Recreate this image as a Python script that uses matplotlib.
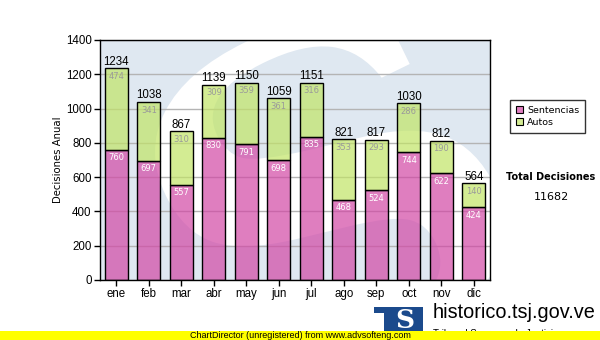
import matplotlib
matplotlib.use("Agg")
import matplotlib.pyplot as plt
import numpy as np
from matplotlib.textpath import TextPath
from matplotlib.font_manager import FontProperties
from matplotlib.patches import PathPatch, Rectangle, Patch
from matplotlib.transforms import Affine2D
from matplotlib.colors import to_rgba

months = ['ene', 'feb', 'mar', 'abr', 'may', 'jun', 'jul', 'ago', 'sep', 'oct', 'nov', 'dic']
sentencias = [760, 697, 557, 830, 791, 698, 835, 468, 524, 744, 622, 424]
autos = [474, 341, 310, 309, 359, 361, 316, 353, 293, 286, 190, 140]
series_names = ['Sentencias', 'Autos']

pink = '#d247a5'
green = '#c1e466'
bg_blue = '#dfe8f1'

W, H = 600, 340
fig = plt.figure(figsize=(6, 3.4), dpi=100)
fig.patch.set_facecolor('white')

def fx(px):
    return px / W

def fy(py):
    return 1 - py / H

AX_W, AX_H = 390, 240
ax = fig.add_axes([fx(100), fy(280), AX_W / W, AX_H / H])
ax.set_facecolor(bg_blue)

# watermark "S" of the logo, white on light blue (built in axes pixels, then to axes fraction)
tp = TextPath((0, 0), "S", size=1, prop=FontProperties(family='DejaVu Serif', weight='bold'))
ext = tp.get_extents()
sw, sh = 300, 340
cx, cy = 230, 90
tr = (Affine2D().translate(-ext.x0 - ext.width / 2, -ext.y0 - ext.height / 2)
      .scale(sw / ext.width, sh / ext.height)
      .rotate_deg(26)
      .translate(cx, cy)
      .scale(1 / AX_W, 1 / AX_H))
wm = PathPatch(tr.transform_path(tp), facecolor='white', edgecolor='none', transform=ax.transAxes, zorder=0.5)
ax.add_patch(wm)
wm.set_clip_path(ax.patch)

x = np.arange(len(months))
s = np.array(sentencias)
a = np.array(autos)
tot = s + a

ax.bar(x, s, width=0.7, color=to_rgba(pink, 0.7), edgecolor='black', linewidth=1, zorder=3)
ax.bar(x, a, bottom=s, width=0.7, color=to_rgba(green, 0.7), edgecolor='black', linewidth=1, zorder=3)

for i in range(len(x)):
    ax.annotate(str(tot[i]), (x[i], tot[i]), xytext=(0, 0.5), textcoords='offset points',
                ha='center', va='bottom', fontsize=8.3, family='Liberation Sans', color='black', zorder=5)
    ax.annotate(str(a[i]), (x[i], tot[i]), xytext=(0, -2.5), textcoords='offset points',
                ha='center', va='top', fontsize=6, family='DejaVu Sans', color='#9a9a9a', zorder=5)
    ax.annotate(str(s[i]), (x[i], s[i]), xytext=(0, -2.5), textcoords='offset points',
                ha='center', va='top', fontsize=6, family='DejaVu Sans', color='white', zorder=5)

ax.set_xlim(-0.5, len(months) - 0.5)
ax.set_ylim(0, 1400)
ax.set_yticks(range(0, 1401, 200))
ax.set_xticks(x)
ax.set_xticklabels(months)
ax.yaxis.grid(True, color='#b4b4b4', linewidth=1, zorder=1)
ax.set_axisbelow(True)
for sp in ax.spines.values():
    sp.set_color('black')
    sp.set_linewidth(1)
    sp.set_zorder(6)
ax.tick_params(axis='both', direction='out', length=4, width=1, colors='black', pad=2)
for lab in ax.get_xticklabels() + ax.get_yticklabels():
    lab.set_family('Liberation Sans')
    lab.set_fontsize(8.3)
ax.set_ylabel('Decisiones Anual', fontsize=7.3, family='DejaVu Sans', labelpad=2)

# legend
handles = [Patch(facecolor='#e07ec0', edgecolor='black', linewidth=0.8),
           Patch(facecolor='#d4ec94', edgecolor='black', linewidth=0.8)]
leg = fig.legend(handles, series_names, loc='upper left', bbox_to_anchor=(fx(510), fy(100)),
                 borderaxespad=0, frameon=True, fancybox=False, handlelength=0.75, handleheight=0.75,
                 handletextpad=0.4, labelspacing=0.25, borderpad=0.65,
                 prop={'family': 'DejaVu Sans', 'size': 6.8})
leg.get_frame().set_edgecolor('black')
leg.get_frame().set_linewidth(1)

fig.text(fx(551), fy(177), 'Total Decisiones', ha='center', va='center', fontsize=7,
         fontweight='bold', family='DejaVu Sans')
fig.text(fx(551), fy(197), str(tot.sum()), ha='center', va='center', fontsize=8, family='DejaVu Sans')

# logo
fig.patches.append(Rectangle((fx(374), fy(313)), 24 / W, 6 / H, transform=fig.transFigure,
                             facecolor='#1b4a8c', edgecolor='none', zorder=1))
fig.patches.append(Rectangle((fx(384), fy(335)), 39 / W, 28 / H, transform=fig.transFigure,
                             facecolor='#1b4a8c', edgecolor='none', zorder=1))
fig.text(fx(405), fy(320), 'S', ha='center', va='center', fontsize=19, fontweight='bold',
         family='DejaVu Serif', color='white', zorder=2)
fig.text(fx(433), fy(313), 'historico.tsj.gov.ve', ha='left', va='center', fontsize=14.3,
         family='Liberation Sans', color='black', zorder=2)
fig.text(fx(433), fy(334), 'Tribunal Supremo de Justicia', ha='left', va='center', fontsize=7,
         family='Liberation Sans', color='black', zorder=2)

# footer band
fig.patches.append(Rectangle((0, 0), 1, 9 / H, transform=fig.transFigure,
                             facecolor='#ffff00', edgecolor='none', zorder=5))
fig.text(fx(300), fy(335.5), 'ChartDirector (unregistered) from www.advsofteng.com', ha='center',
         va='center', fontsize=6.5, family='Liberation Sans', color='black', zorder=6)

fig.savefig('out.png', dpi=100)
